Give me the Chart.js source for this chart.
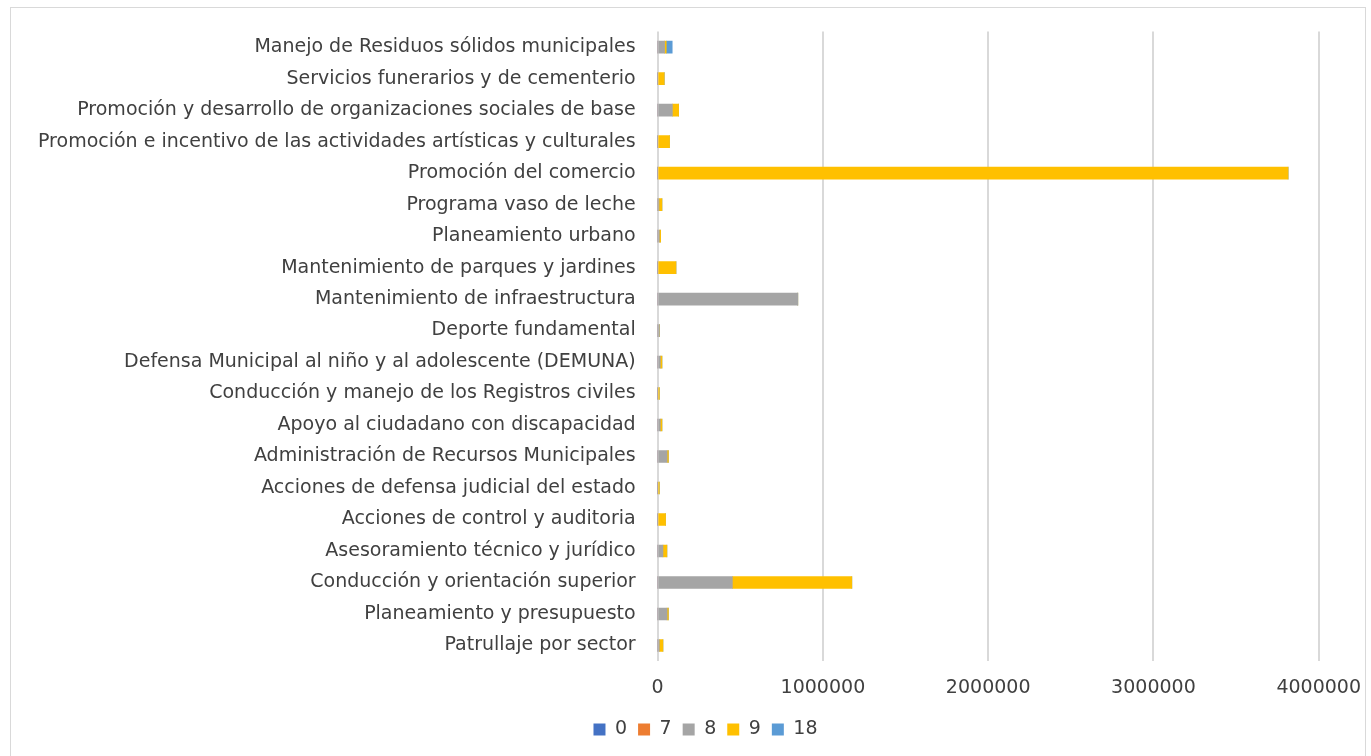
<!DOCTYPE html>
<html>
<head>
<meta charset="utf-8">
<script src="https://cdn.jsdelivr.net/npm/chart.js@4.4.1/dist/chart.umd.min.js"></script>
<style>
    html, body { margin: 0; padding: 0; background: #fff; }
    #wrap { position: relative; width: 1371px; height: 756px; }
    #frame { position: absolute; left: 10px; top: 7px; width: 1356px; height: 760px; border: 1px solid #d9d9d9; box-sizing: border-box; }
    canvas { position: absolute; left: 0; top: 0; }
</style>
</head>
<body>
<div id="wrap">
    <div id="frame"></div>
    <canvas id="chart" width="1371" height="756"></canvas>
</div>
<script>
// --- Categories (top to bottom) ---
const categories = [
    'Manejo de Residuos sólidos municipales',
    'Servicios funerarios y de cementerio',
    'Promoción y desarrollo de organizaciones sociales de base',
    'Promoción e incentivo de las actividades artísticas y culturales',
    'Promoción del comercio',
    'Programa vaso de leche',
    'Planeamiento urbano',
    'Mantenimiento de parques y jardines',
    'Mantenimiento de infraestructura',
    'Deporte fundamental',
    'Defensa Municipal al niño y al adolescente (DEMUNA)',
    'Conducción y manejo de los Registros civiles',
    'Apoyo al ciudadano con discapacidad',
    'Administración de Recursos Municipales',
    'Acciones de defensa judicial del estado',
    'Acciones de control y auditoria',
    'Asesoramiento técnico y jurídico',
    'Conducción y orientación superior',
    'Planeamiento y presupuesto',
    'Patrullaje por sector'
];

// --- Series values (same order as categories) ---
const serie0  = [0, 0, 0, 0, 0, 0, 0, 0, 0, 0, 0, 0, 0, 0, 0, 0, 0, 0, 0, 0];
const serie7  = [0, 0, 0, 0, 0, 0, 0, 0, 0, 0, 0, 0, 0, 0, 0, 0, 0, 0, 0, 0];
const serie8  = [42000, 0, 89000, 0, 0, 8000, 10000, 0, 848000, 10000, 16000, 0, 16000, 57000, 0, 0, 32000, 452000, 57000, 10000];
const serie9  = [10000, 40000, 38000, 72000, 3815000, 18000, 8000, 111000, 0, 0, 10000, 10000, 10000, 8000, 10000, 48000, 24000, 723000, 8000, 22000];
const serie18 = [36000, 0, 0, 0, 0, 0, 0, 0, 0, 0, 0, 0, 0, 0, 0, 0, 0, 0, 0, 0];

// --- Axis ticks ---
const xTicks = [0, 1000000, 2000000, 3000000, 4000000];

const seriesNames = ['0', '7', '8', '9', '18'];
const seriesColors = ['#4472C4', '#ED7D31', '#A5A5A5', '#FFC000', '#5B9BD5'];
const seriesData = [serie0, serie7, serie8, serie9, serie18];

const textColor = '#404040';
const fontFamily = '"DejaVu Sans", sans-serif';

// nudge the legend a little to the right, like the original
const legendShift = {
    id: 'legendShift',
    afterLayout(chart) {
        if (chart.legend) {
            chart.legend.left += 14;
            chart.legend.right += 14;
        }
    }
};

const ctx = document.getElementById('chart').getContext('2d');
new Chart(ctx, {
    type: 'bar',
    data: {
        labels: categories,
        datasets: seriesNames.map((name, i) => ({
            label: name,
            data: seriesData[i],
            backgroundColor: seriesColors[i],
            borderWidth: 0,
            barThickness: 12
        }))
    },
    options: {
        indexAxis: 'y',
        responsive: false,
        animation: false,
        layout: { padding: { left: 16, right: 4, top: 26, bottom: 7 } },
        scales: {
            x: {
                stacked: true,
                min: 0,
                max: 4000000,
                afterBuildTicks: axis => { axis.ticks = xTicks.map(v => ({ value: v })); },
                afterFit: axis => { axis.height -= 5; axis.paddingRight -= 5; },
                grid: { color: '#d9d9d9', lineWidth: 2, drawTicks: false },
                border: { display: false },
                ticks: {
                    color: textColor,
                    font: { family: fontFamily, size: 19 },
                    padding: 15,
                    maxRotation: 0,
                    callback: v => String(v)
                }
            },
            y: {
                stacked: true,
                afterFit: axis => { axis.paddingTop -= 2; },
                grid: { display: false, drawTicks: false },
                border: { display: false },
                ticks: {
                    color: textColor,
                    font: { family: fontFamily, size: 19 },
                    padding: 22,
                    autoSkip: false
                }
            }
        },
        plugins: {
            legend: {
                position: 'bottom',
                labels: {
                    color: textColor,
                    font: { family: fontFamily, size: 19 },
                    boxWidth: 12,
                    boxHeight: 12,
                    padding: 11
                }
            },
            tooltip: { enabled: false }
        }
    },
    plugins: [legendShift]
});
</script>
</body>
</html>
